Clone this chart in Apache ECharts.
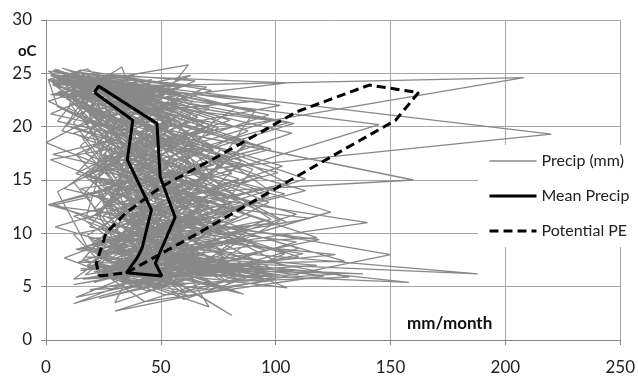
<!DOCTYPE html>
<html>
<head>
<meta charset="utf-8">
<script src="https://cdn.jsdelivr.net/npm/echarts@6/dist/echarts.min.js"></script>
<style>
html,body{margin:0;padding:0;background:#fff;}
#chart{width:638px;height:376px;}
</style>
</head>
<body>
<div id="chart"></div>
<script>
// monthly records, one row per year (temperature oC / precipitation mm)
var monthTemp = [
	24.1,23.5,20.8,15.2,11.9,7.5,5.8,6.4,8.1,12.6,16.4,21.0,
	23.2,24.4,19.6,16.1,10.8,6.9,6.3,5.2,7.4,11.8,17.2,20.1,
	24.8,23.9,21.2,14.7,12.4,8.2,4.8,6.9,8.8,13.1,15.8,21.6,
	22.9,25.1,20.3,15.8,11.2,7.1,6.8,4.1,9.3,12.2,16.9,19.8,
	23.7,24.6,18.9,16.6,13.3,6.5,5.4,7.3,7.9,11.4,17.5,22.3,
	24.3,23.1,20.6,14.9,10.5,8.6,6.1,5.9,8.4,13.6,16.2,20.7,
	23.9,24.7,19.3,15.5,12.8,7.8,3.1,6.6,7.2,12.9,18.1,21.4,
	22.6,23.6,21.8,16.8,11.6,7.4,6.9,5.5,9.7,11.6,15.3,20.4,
	24.5,22.8,20.1,14.3,12.1,8.9,6.2,7.8,6.9,12.4,16.7,19.5,
	23.4,25.4,19.9,17.3,10.2,7.0,6.4,4.6,8.6,13.8,17.8,21.9,
	24.9,23.3,21.0,15.0,13.6,8.0,5.1,6.7,8.3,11.1,16.0,20.9,
	23.0,24.2,20.4,16.3,11.4,6.6,7.2,5.7,7.6,12.7,15.6,21.2,
	24.2,23.7,18.6,15.6,12.6,9.4,6.0,7.1,9.1,13.4,17.1,20.3,
	25.0,24.3,21.5,14.1,11.0,7.7,5.3,2.7,8.0,11.9,16.6,22.0,
	23.6,22.9,20.0,16.9,12.3,7.3,6.6,6.0,7.0,12.0,18.4,21.1,
	24.0,25.8,19.7,15.3,10.7,8.4,5.0,6.3,9.6,13.0,15.1,20.6,
	23.3,24.8,20.9,16.0,13.0,7.9,5.9,7.5,8.5,11.3,17.0,19.7,
	24.7,23.0,20.2,14.6,11.7,6.2,6.7,5.4,8.2,12.5,16.3,21.5,
	23.1,24.5,19.1,16.4,12.2,8.8,4.4,6.8,7.3,13.3,17.6,20.0,
	24.4,23.8,21.4,15.1,10.9,7.6,6.2,5.8,9.0,11.7,15.9,22.1,
	24.6,22.1,17.4,12.8,9.3,6.1,7.9,5.3,10.4,14.8,19.2,23.5,
	23.8,25.2,22.4,18.1,13.7,9.8,7.4,6.5,8.9,11.5,14.2,18.8,
	22.4,24.0,21.7,13.9,8.7,5.6,4.2,7.7,10.8,15.4,20.7,24.3,
	25.3,23.4,19.4,15.9,11.3,8.5,6.0,3.6,7.1,12.3,18.6,22.7,
	24.2,24.9,20.7,17.6,14.2,10.1,5.7,6.9,9.4,13.7,16.5,21.3,
	23.5,22.2,18.2,14.4,10.6,7.2,6.6,4.9,8.7,10.9,15.5,19.9,
	24.8,24.1,21.9,16.7,12.9,9.1,5.2,7.0,6.4,14.1,17.9,23.1,
	23.2,25.5,20.5,13.4,11.8,6.8,5.5,6.1,9.9,12.8,16.8,20.2,
	24.0,23.3,19.8,17.9,10.1,8.1,3.9,5.6,8.0,11.2,19.6,22.5,
	22.8,24.6,21.1,15.4,13.9,7.9,6.4,7.4,10.2,13.5,15.2,21.7,
	25.1,23.9,18.4,16.2,12.5,6.4,4.7,6.2,7.8,12.1,17.4,20.8,
	23.7,24.4,22.0,14.0,9.6,8.7,7.6,5.1,9.2,14.5,18.3,22.9,
	24.3,22.7,20.0,16.5,11.1,7.0,5.6,2.3,8.8,11.0,16.1,21.8,
	23.9,25.0,19.2,15.7,13.1,9.6,6.8,6.0,7.5,13.9,17.7,20.5,
	24.5,23.2,21.3,14.8,10.4,7.5,5.0,7.2,9.5,12.4,15.7,22.2,
	23.0,24.3,20.6,16.9,12.0,8.3,6.3,4.5,8.3,12.9,18.8,21.0,
	24.9,23.6,19.0,13.6,11.5,6.7,5.8,6.6,10.1,14.2,16.4,19.4,
	22.7,24.8,21.6,17.2,13.5,9.0,4.6,5.9,7.7,11.6,17.3,23.0,
	24.4,23.1,20.3,15.2,9.9,7.3,6.9,7.9,9.1,13.2,15.0,20.6,
	23.6,25.6,18.7,16.1,12.7,8.0,5.3,3.4,8.4,12.6,19.0,22.4,
	24.1,22.5,21.0,14.5,11.9,6.3,6.5,6.4,7.2,11.8,16.9,21.2,
	23.3,24.7,19.5,17.0,10.8,9.3,5.9,5.0,9.8,14.6,17.8,20.1,
	25.2,23.8,22.2,15.6,13.4,7.6,4.0,6.7,8.6,12.2,15.4,23.3,
	23.4,24.2,20.8,13.2,11.4,8.2,7.1,5.4,7.9,13.0,18.2,21.6,
	24.7,23.4,19.6,16.3,12.4,6.9,5.5,7.3,9.3,11.4,16.6,20.4,
	22.9,25.3,21.5,15.0,10.3,8.8,6.0,4.8,8.1,13.6,17.2,22.6,
	24.2,23.0,18.8,17.4,13.2,7.1,5.1,6.5,10.6,12.7,15.8,21.4,
	23.8,24.6,20.9,14.2,11.0,9.5,6.7,5.7,7.4,11.9,18.5,19.6,
	24.6,23.7,19.3,16.6,12.3,7.7,3.5,6.8,9.0,14.0,16.2,22.8,
	23.1,24.9,21.8,15.5,10.6,8.6,6.3,5.2,8.7,12.3,17.1,20.7,
	24.0,24.4,23.2,19.0,14.6,10.3,6.6,6.1,8.0,10.7,14.9,20.4,
	23.6,22.8,22.0,17.5,13.0,8.4,7.0,6.4,7.3,12.1,17.7,22.6,
	24.9,24.1,21.2,18.3,11.7,9.2,5.2,5.9,8.9,13.3,18.9,23.8,
	22.5,23.5,20.6,16.0,12.8,7.8,6.5,4.3,9.5,11.0,16.0,21.9,
	24.4,25.4,22.7,18.5,13.8,8.9,7.3,6.2,6.7,12.9,17.6,20.5,
	23.9,23.2,19.9,15.1,12.0,9.7,5.6,7.6,9.7,14.3,18.0,22.4,
	24.7,24.0,21.4,17.8,11.2,6.0,4.9,6.3,8.5,11.5,15.6,21.0,
	23.0,24.8,20.2,14.9,10.0,8.0,6.8,5.5,7.8,12.6,16.4,23.6,
	25.1,22.6,21.7,16.4,13.6,9.0,6.1,3.8,9.2,13.8,19.4,22.0,
	23.4,24.3,19.4,15.6,11.6,7.4,5.7,6.9,10.0,11.3,17.4,21.1
];
var monthPrecip = [
	12,35,62,44,70,38,55,28,41,60,22,30,
	5,18,88,52,31,64,40,12,73,35,48,9,
	28,3,45,105,58,22,77,46,30,52,14,40,
	41,7,30,36,95,49,18,62,26,84,38,21,
	16,208,52,25,47,68,33,90,52,19,61,13,
	2,27,57,73,40,15,110,38,66,28,45,55,
	33,9,220,48,3,57,71,24,44,97,36,18,
	47,21,14,85,62,130,26,50,35,12,70,43,
	8,60,38,31,52,43,188,17,59,40,25,67,
	26,4,75,55,34,82,21,44,110,29,53,15,
	19,44,23,160,46,26,58,35,20,71,90,33,
	37,14,106,39,78,51,29,95,48,33,19,58,
	6,31,50,66,2,119,40,63,27,56,80,24,
	22,65,35,47,140,34,68,30,150,45,31,11,
	45,11,82,2,55,101,36,76,42,124,27,60,
	14,62,39,94,32,59,47,22,85,38,57,26,
	53,24,66,20,88,46,97,53,13,66,42,36,
	10,40,145,60,25,70,15,158,37,49,103,20,
	30,16,56,42,67,27,84,39,61,23,46,74,
	3,55,28,113,50,86,31,57,24,78,34,48,
	4,48,25,91,36,17,63,80,29,12,57,23,
	58,11,39,21,104,33,46,15,92,61,8,37,
	1,26,71,5,18,99,52,8,47,34,26,6,
	15,72,12,48,63,27,121,43,19,56,88,31,
	36,2,54,29,76,41,12,68,33,23,45,52,
	9,34,87,64,4,58,37,105,61,44,16,70,
	24,105,18,40,85,28,61,20,74,30,98,14,
	44,7,66,57,31,73,45,29,12,81,40,27,
	3,39,31,76,49,112,23,54,38,17,29,62,
	51,20,97,17,59,36,89,26,67,46,71,10,
	13,57,43,85,27,62,19,128,45,36,13,49,
	30,1,22,55,118,45,70,38,21,63,50,35,
	7,45,69,37,43,18,56,81,30,99,26,18,
	62,16,34,101,56,84,28,47,16,41,67,5,
	20,52,15,46,24,53,76,33,87,25,39,57,
	2,29,80,26,68,21,94,59,35,70,22,42,
	38,9,58,72,33,65,17,41,52,15,84,30,
	11,63,27,41,97,39,60,24,78,44,36,8,
	46,4,108,30,52,14,83,62,27,58,19,55,
	18,33,45,67,1,77,35,12,96,28,47,64,
	5,96,21,58,71,32,49,86,43,109,25,16,
	27,14,62,23,39,90,64,37,18,52,73,45,
	1,47,36,81,28,55,13,74,60,31,58,22,
	55,22,74,48,115,30,42,21,66,37,15,32,
	8,36,19,33,45,68,87,49,25,80,34,69,
	34,3,91,70,26,50,23,69,104,19,61,12,
	17,59,30,3,84,22,56,34,31,62,49,41,
	42,12,51,96,35,73,98,16,55,38,27,7,
	23,70,24,52,61,40,30,77,20,113,76,29,
	6,28,83,37,19,64,51,45,72,21,40,54,
	3,20,8,45,30,88,65,102,38,57,31,12,
	27,6,42,17,63,40,118,74,92,23,48,9,
	10,34,2,62,21,109,45,132,58,35,16,40,
	48,15,99,28,71,25,56,86,19,105,60,5,
	1,18,37,0,53,77,29,138,47,68,22,44,
	32,58,13,84,40,61,100,36,79,26,95,18,
	7,26,64,35,102,56,24,66,37,84,13,63,
	40,2,50,21,36,126,70,45,110,42,67,21,
	15,44,28,73,24,48,91,60,30,17,39,102,
	52,9,107,55,89,33,52,28,66,98,56,26
];
// mean precip loop
var meanPrecip = [21.1,22.9,48.3,49.7,56.2,47.6,50.4,35.0,39.7,41.8,45.9,35.4,37.8,21.1];
var meanTemp   = [23.2,23.8,20.3,15.3,11.5,7.2,6.0,6.3,7.7,8.6,12.2,16.9,20.6,23.2];
// potential evaporation loop
var pePE   = [23.2,35.0,47.6,66.2,100,130,152.2,162.2,140.7,109.2,74.8,50.4,34.7,26.1,21.9,23.2];
var peTemp = [6.0,6.3,7.8,10.0,14.2,17.9,20.6,23.2,23.9,21.4,17.2,14.4,11.9,10.0,7.2,6.0];

var xTicks = {min:0,max:250,step:50};
var yTicks = {min:0,max:30,step:5};

function zip(xs,ys){
	var out=[];
	for(var i=0;i<xs.length;i++) out.push([xs[i],ys[i]]);
	return out;
}

var font = 'Lato, "Open Sans", sans-serif';
var myChart = echarts.init(document.getElementById('chart'));
var option = {
	backgroundColor:'#fff',
	animation:false,
	textStyle:{fontFamily:font},
	grid:{left:46,right:14,top:20,bottom:36,containLabel:false},
	xAxis:{
		type:'value',min:xTicks.min,max:xTicks.max,interval:xTicks.step,
		axisLine:{show:true,lineStyle:{color:'#868686',width:1}},
		axisTick:{show:true,length:5,lineStyle:{color:'#868686'}},
		axisLabel:{color:'#222',fontSize:17,margin:19,fontFamily:font},
		splitLine:{show:true,lineStyle:{color:'#a6a6a6',width:1}}
	},
	yAxis:{
		type:'value',min:yTicks.min,max:yTicks.max,interval:yTicks.step,
		axisLine:{show:true,lineStyle:{color:'#868686',width:1}},
		axisTick:{show:true,length:5,lineStyle:{color:'#868686'}},
		axisLabel:{color:'#222',fontSize:17,margin:14,fontFamily:font},
		splitLine:{show:true,lineStyle:{color:'#a6a6a6',width:1}}
	},
	legend:{
		orient:'vertical',left:478,top:145,
		backgroundColor:'#fff',padding:[8,10,8,10],
		itemWidth:47,itemHeight:14,itemGap:19,
		itemStyle:{opacity:0},
		lineStyle:{width:'inherit'},
		textStyle:{fontSize:16,color:'#222',fontFamily:font},
		data:['Precip (mm)','Mean Precip','Potential PE']
	},
	graphic:[
		{type:'text',left:18,top:44,style:{text:'oC',font:'bold 15px '+font,fill:'#111'}},
		{type:'text',left:407,top:315,style:{text:'mm/month',font:'bold 17px '+font,fill:'#111'}}
	],
	series:[
		{
			name:'Precip (mm)',type:'line',symbol:'none',
			data:zip(monthPrecip,monthTemp),
			lineStyle:{color:'#888',width:1.3},itemStyle:{color:'#888'}
		},
		{
			name:'Mean Precip',type:'line',symbol:'none',
			data:zip(meanPrecip,meanTemp),
			lineStyle:{color:'#000',width:3},itemStyle:{color:'#000'}
		},
		{
			name:'Potential PE',type:'line',symbol:'none',
			data:zip(pePE,peTemp),
			lineStyle:{color:'#000',width:3,type:[9,5]},itemStyle:{color:'#000'}
		}
	]
};
myChart.setOption(option);
</script>
</body>
</html>
